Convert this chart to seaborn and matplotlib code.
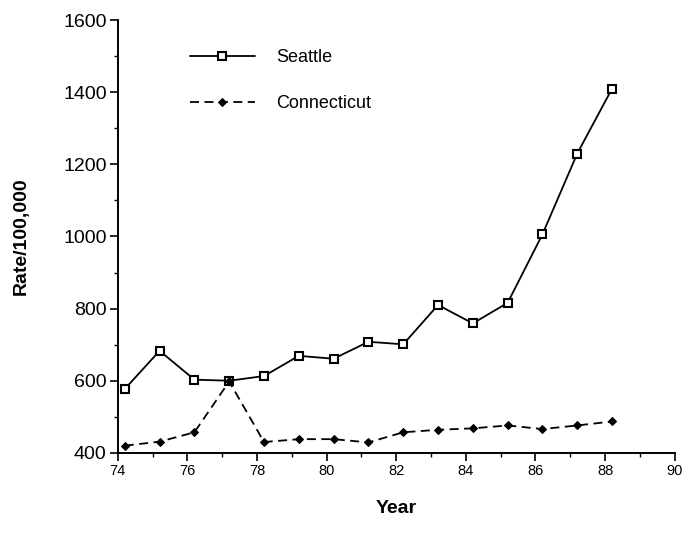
import matplotlib
matplotlib.use("Agg")
import matplotlib.pyplot as plt
import seaborn as sns
from matplotlib.ticker import MultipleLocator

# data (values plotted at mid-year)
years = [74.2, 75.2, 76.2, 77.2, 78.2, 79.2, 80.2, 81.2, 82.2, 83.2, 84.2, 85.2, 86.2, 87.2, 88.2]
seattle = [577, 683, 603, 600, 613, 669, 661, 708, 701, 810, 759, 816, 1006, 1230, 1410]
connecticut = [420, 431, 457, 598, 430, 438, 438, 429, 457, 464, 468, 476, 466, 476, 487]

sns.set_style("ticks")
plt.rcParams['font.family'] = ['Liberation Sans', 'DejaVu Sans']
plt.rcParams['text.color'] = 'black'
plt.rcParams['axes.labelcolor'] = 'black'
plt.rcParams['xtick.color'] = 'black'
plt.rcParams['ytick.color'] = 'black'

fig = plt.figure(figsize=(6.85, 5.43), dpi=100)
ax = fig.add_axes([0.172, 0.166, 0.813, 0.797])

sns.lineplot(x=years, y=seattle, ax=ax, color='black', lw=1.3,
             marker='s', markersize=5.5, markerfacecolor='white',
             markeredgecolor='black', markeredgewidth=1.5, label='Seattle')
sns.lineplot(x=years, y=connecticut, ax=ax, color='black', lw=1.3,
             linestyle=(0, (5, 3)), marker='D', markersize=4.5,
             markerfacecolor='black', markeredgecolor='black', label='Connecticut')

ax.set_xlim(74, 90)
ax.set_ylim(400, 1600)
ax.xaxis.set_major_locator(MultipleLocator(2))
ax.xaxis.set_minor_locator(MultipleLocator(1))
ax.yaxis.set_major_locator(MultipleLocator(200))
ax.yaxis.set_minor_locator(MultipleLocator(100))
ax.tick_params(axis='y', which='major', labelsize=14, length=6, width=1.2, pad=2)
ax.tick_params(axis='x', which='major', labelsize=10.5, length=6, width=1.2, pad=2)
ax.tick_params(which='minor', length=3, width=1)
sns.despine(ax=ax)
for s in ['left', 'bottom']:
    ax.spines[s].set_linewidth(1.4)
    ax.spines[s].set_color('black')

ax.set_xlabel('Year', fontsize=14, fontweight='bold', labelpad=16)
ax.set_ylabel('Rate/100,000', fontsize=14, fontweight='bold', labelpad=24)

ax.legend(loc='upper left', bbox_to_anchor=(0.1, 0.97), frameon=False, fontsize=13,
          handlelength=3.6, handletextpad=1.2, labelspacing=1.6)

fig.savefig('out.png', dpi=100)
